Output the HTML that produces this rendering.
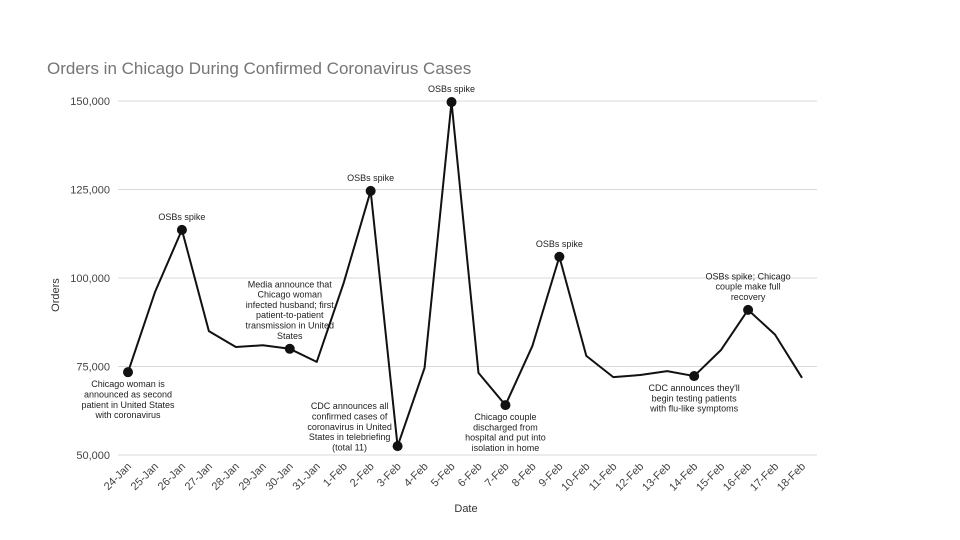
<!DOCTYPE html>
<html><head><meta charset="utf-8">
<style>
html,body{margin:0;padding:0;background:#fff;}
svg{display:block;font-family:"Liberation Sans",Arial,sans-serif;}
</style></head>
<body>
<svg id="chart" width="960" height="540" viewBox="0 0 960 540">
<text x="47" y="74" font-size="17" fill="#757575">Orders in Chicago During Confirmed Coronavirus Cases</text>
<text transform="translate(59,295) rotate(-90)" text-anchor="middle" font-size="11" fill="#333">Orders</text>
<text x="466" y="512" text-anchor="middle" font-size="11" fill="#333">Date</text>
<g id="grid"></g><g id="xlabels"></g><g id="series"></g><g id="notes"></g>
</svg>
<script>
const categories=["24-Jan","25-Jan","26-Jan","27-Jan","28-Jan","29-Jan","30-Jan","31-Jan","1-Feb","2-Feb","3-Feb","4-Feb","5-Feb","6-Feb","7-Feb","8-Feb","9-Feb","10-Feb","11-Feb","12-Feb","13-Feb","14-Feb","15-Feb","16-Feb","17-Feb","18-Feb"];
const orders=[73400,96000,113600,85000,80500,81000,80000,76300,98600,124600,52500,74600,149700,73200,64100,80800,106000,78000,72000,72600,73700,72300,79700,91000,84000,71800];
const yTicks=[50000,75000,100000,125000,150000];
const yTickLabels=["50,000","75,000","100,000","125,000","150,000"];
const markerIdx=[0,2,6,9,10,12,14,16,21,23];
const notes=[
 {i:0,pos:"below",lines:["Chicago woman is","announced as second","patient in United States","with coronavirus"]},
 {i:2,pos:"above",lines:["OSBs spike"]},
 {i:6,pos:"above",lines:["Media announce that","Chicago woman","infected husband; first","patient-to-patient","transmission in United","States"]},
 {i:9,pos:"above",lines:["OSBs spike"]},
 {i:10,pos:"leftup",lines:["CDC announces all","confirmed cases of","coronavirus in United","States in telebriefing","(total 11)"]},
 {i:12,pos:"above",lines:["OSBs spike"]},
 {i:14,pos:"below",lines:["Chicago couple","discharged from","hospital and put into","isolation in home"]},
 {i:16,pos:"above",lines:["OSBs spike"]},
 {i:21,pos:"below",lines:["CDC announces they'll","begin testing patients","with flu-like symptoms"]},
 {i:23,pos:"above",lines:["OSBs spike; Chicago","couple make full","recovery"]}
];
const NS="http://www.w3.org/2000/svg";
const x0=128,x1=802,yMin=50000,yMax=150000,py0=455,py1=101;
function xs(i){return x0+(x1-x0)*i/(categories.length-1);}
function ys(v){return py0-(v-yMin)/(yMax-yMin)*(py0-py1);}
function mk(t,a,p){const e=document.createElementNS(NS,t);for(const k in a)e.setAttribute(k,a[k]);p.appendChild(e);return e;}
const grid=document.getElementById('grid');
yTicks.forEach((v,k)=>{
 const l=mk('line',{x1:118,x2:817,y1:ys(v),y2:ys(v),stroke:'#d9d9d9','stroke-width':1},grid);
 
 
 const t=mk('text',{x:110,y:ys(v)+4,'text-anchor':'end','font-size':11,fill:'#444'},grid);
 t.textContent=yTickLabels[k];
 
 
});
const xl=document.getElementById('xlabels');
categories.forEach((c,i)=>{
 const t=mk('text',{transform:`translate(${xs(i)+4},${467}) rotate(-45)`,'text-anchor':'end','font-size':11,fill:'#444'},xl);
 t.textContent=c;
 
 
});
const s=document.getElementById('series');
const line=mk('polyline',{points:orders.map((v,i)=>xs(i)+','+ys(v)).join(' '),fill:'none',stroke:'#111','stroke-width':2,'stroke-linejoin':'round'},s);


markerIdx.forEach(i=>{
 const c=mk('circle',{cx:xs(i),cy:ys(orders[i]),r:5,fill:'#111'},s);
 
 
});
const ng=document.getElementById('notes');
notes.forEach(n=>{
 const cx=xs(n.i),cy=ys(orders[n.i]);const lh=10.3;let sx=cx,sy;
 if(n.pos==="above"){sy=cy-10-(n.lines.length-1)*lh;}
 else if(n.pos==="below"){sy=cy+15;}
 else {sx=cx-48;sy=cy-37;}
 const t=mk('text',{'text-anchor':'middle','font-size':9,fill:'#222'},ng);
 
 
 n.lines.forEach((ln,k)=>{const ts=mk('tspan',{x:sx,y:sy+k*lh},t);ts.textContent=ln;});
});
</script>
</body></html>
